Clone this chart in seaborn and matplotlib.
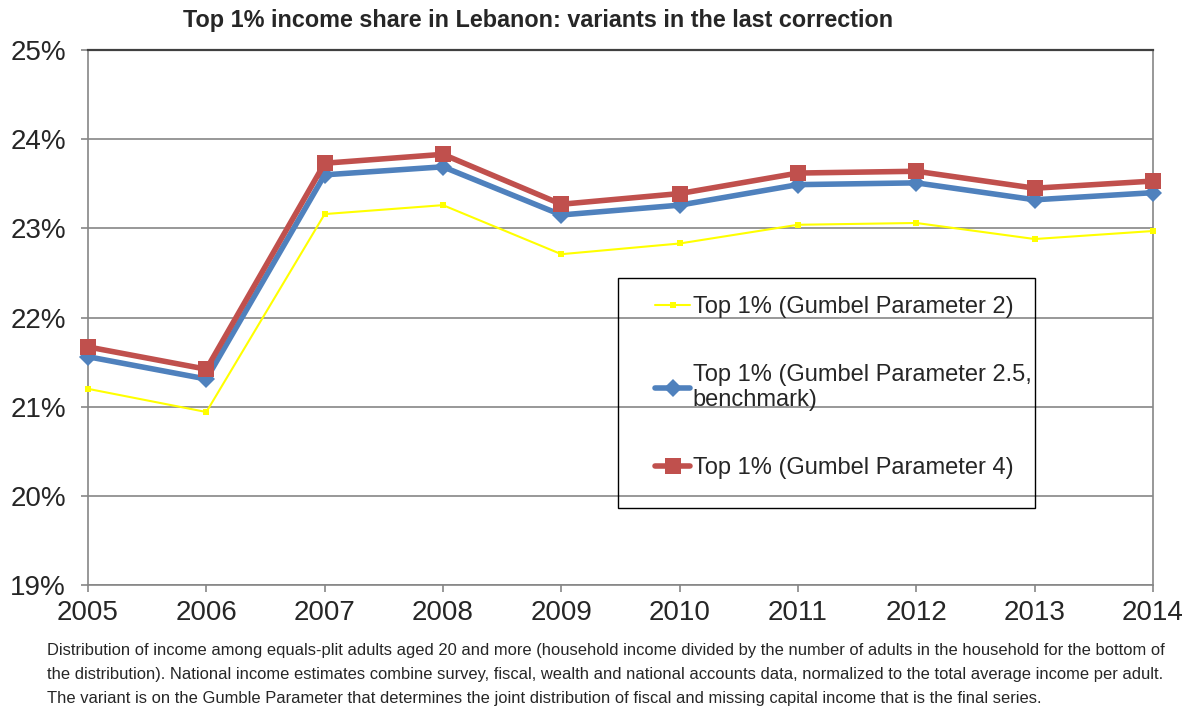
import matplotlib
matplotlib.use("Agg")
import matplotlib.pyplot as plt
import seaborn as sns
from matplotlib.patches import Rectangle
from matplotlib.ticker import FuncFormatter

years = [2005, 2006, 2007, 2008, 2009, 2010, 2011, 2012, 2013, 2014]
gumbel_2 = [21.20, 20.94, 23.16, 23.26, 22.71, 22.83, 23.04, 23.06, 22.88, 22.97]
gumbel_25 = [21.56, 21.31, 23.60, 23.69, 23.15, 23.26, 23.49, 23.51, 23.32, 23.40]
gumbel_4 = [21.67, 21.42, 23.73, 23.83, 23.27, 23.39, 23.62, 23.64, 23.45, 23.53]

labels = ["Top 1% (Gumbel Parameter 2)",
          "Top 1% (Gumbel Parameter 2.5,\nbenchmark)",
          "Top 1% (Gumbel Parameter 4)"]

title = "Top 1% income share in Lebanon: variants in the last correction"
note = ("Distribution of income among equals-plit adults aged 20 and more (household income divided by the number of adults in the household for the bottom of\n"
        "the distribution). National income estimates combine survey, fiscal, wealth and national accounts data, normalized to the total average income per adult.\n"
        "The variant is on the Gumble Parameter that determines the joint distribution of fiscal and missing capital income that is the final series.")

sns.set_style("white")
plt.rcParams['font.family'] = ['Liberation Sans', 'DejaVu Sans']

W, H = 1192, 711
fig = plt.figure(figsize=(W / 100, H / 100), dpi=100)
ax = fig.add_axes([88 / W, 1 - 585 / H, (1153 - 88) / W, (585 - 50) / H])

grid_c = "#868686"

sns.lineplot(x=years, y=gumbel_2, ax=ax, color="#FFFF00", lw=1.5, marker="s",
             markersize=4, markeredgewidth=0, label=labels[0], clip_on=False, zorder=3)
sns.lineplot(x=years, y=gumbel_25, ax=ax, color="#4F81BD", lw=4, marker="D",
             markersize=9, markeredgewidth=0, label=labels[1], clip_on=False, zorder=4)
sns.lineplot(x=years, y=gumbel_4, ax=ax, color="#C0504D", lw=4, marker="s",
             markersize=11, markeredgewidth=0, label=labels[2], clip_on=False, zorder=5)

ax.set_xlim(2005, 2014)
ax.set_ylim(19, 25)
ax.set_xticks(years)
ax.set_yticks(range(19, 26))
ax.yaxis.set_major_formatter(FuncFormatter(lambda v, p: f"{v:.0f}%"))
ax.grid(axis="y", color=grid_c, lw=1.2)
ax.set_axisbelow(True)
for s in ax.spines.values():
    s.set_color(grid_c)
    s.set_linewidth(1.2)
ax.spines["top"].set_color("#404040")
ax.spines["top"].set_linewidth(1.6)
ax.tick_params(axis="y", direction="out", length=5, width=1.2, color=grid_c,
               labelsize=20, pad=11, left=True)
ax.tick_params(axis="x", direction="out", length=5, width=1.2, color=grid_c,
               labelsize=20, pad=6, bottom=True)

# legend without its own frame, box drawn separately to match padding
leg = ax.legend(loc="upper left", bbox_to_anchor=(655 / W, 1 - 296 / H),
                bbox_transform=fig.transFigure, frameon=False,
                fontsize=17, handlelength=1.5, handletextpad=0.1, labelspacing=1.95,
                borderpad=0, borderaxespad=0)
fig.patches.append(Rectangle((618 / W, 1 - 508 / H), (1035 - 618) / W, (508 - 278) / H,
                             transform=fig.transFigure, fill=False, edgecolor="black",
                             lw=1.0, zorder=10))

fig.text(538 / W, 1 - 20 / H, title, ha="center", va="center",
         fontsize=16.8, fontweight="bold")
fig.text(47 / W, 1 - 643 / H, note, ha="left", va="top", fontsize=11.9,
         linespacing=1.75)

fig.savefig("out.png", dpi=100)
